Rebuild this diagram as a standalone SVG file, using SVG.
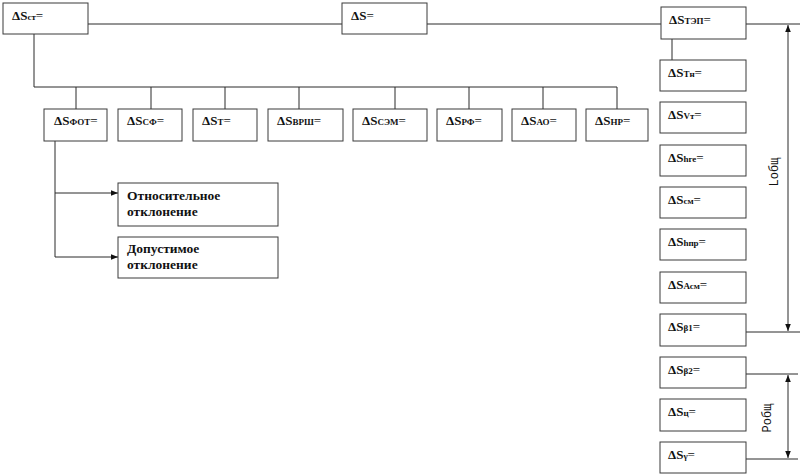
<svg xmlns="http://www.w3.org/2000/svg" width="800" height="476" viewBox="0 0 800 476">
<defs>
<style>
.box{fill:#fff;stroke:#3a3a3a;stroke-width:1}
.ln{fill:none;stroke:#2a2a2a;stroke-width:1}
.lb{font-size:13px;font-weight:bold;fill:#111}
.sb{font-size:9px}
.eq{font-weight:normal}
.tx{font-size:13.5px;font-weight:bold;fill:#111}
.dim{font-size:12px;fill:#111}
</style>
<marker id="ar" viewBox="0 0 10 10" refX="10" refY="5" markerWidth="7" markerHeight="7" orient="auto-start-reverse" markerUnits="userSpaceOnUse">
<path d="M0,1 L10,5 L0,9 Z" fill="#111"/>
</marker>
</defs>
<rect width="800" height="476" fill="#fff"/>
<g id="connectors">
<line class="ln" x1="88" y1="24" x2="342" y2="24"/>
<line class="ln" x1="427" y1="24" x2="661" y2="24"/>
<line class="ln" x1="746" y1="24" x2="800" y2="24"/>
<line class="ln" x1="788" y1="25" x2="788" y2="331" marker-start="url(#ar)" marker-end="url(#ar)"/>
<line class="ln" x1="746" y1="332" x2="800" y2="332"/>
<line class="ln" x1="746" y1="374" x2="798" y2="374"/>
<line class="ln" x1="746" y1="459" x2="798" y2="459"/>
<line class="ln" x1="788" y1="375" x2="788" y2="458" marker-start="url(#ar)" marker-end="url(#ar)"/>
<line class="ln" x1="672" y1="39" x2="672" y2="60"/>
<polyline class="ln" points="34,34 34,87 617,87"/>
<line class="ln" x1="76" y1="87" x2="76" y2="109"/>
<line class="ln" x1="151" y1="87" x2="151" y2="109"/>
<line class="ln" x1="225" y1="87" x2="225" y2="109"/>
<line class="ln" x1="299" y1="87" x2="299" y2="109"/>
<line class="ln" x1="395" y1="87" x2="395" y2="109"/>
<line class="ln" x1="469" y1="87" x2="469" y2="109"/>
<line class="ln" x1="543" y1="87" x2="543" y2="109"/>
<line class="ln" x1="617" y1="87" x2="617" y2="109"/>
<line class="ln" x1="55" y1="141" x2="55" y2="257"/>
<line class="ln" x1="55" y1="193" x2="118" y2="193" marker-end="url(#ar)"/>
<line class="ln" x1="55" y1="257" x2="118" y2="257" marker-end="url(#ar)"/>
</g>
<g id="nodes" font-family="Liberation Serif, DejaVu Serif, serif">
<g id="n-st"><rect class="box" x="3" y="3" width="85" height="31"/><text class="lb" x="12" y="20">ΔS<tspan class="sb">ст</tspan><tspan class="eq">=</tspan></text></g>
<g id="n-s"><rect class="box" x="342" y="3" width="85" height="31"/><text class="lb" x="351" y="20">ΔS<tspan class="eq">=</tspan></text></g>
<g id="n-tep"><rect class="box" x="661" y="7" width="85" height="32"/><text class="lb" x="669" y="24">ΔS<tspan class="sb">ТЭП</tspan><tspan class="eq">=</tspan></text></g>
<g id="n-tn"><rect class="box" x="660" y="60" width="86" height="31"/><text class="lb" x="668" y="77">ΔS<tspan class="sb">Тн</tspan><tspan class="eq">=</tspan></text></g>
<g id="n-vt"><rect class="box" x="660" y="102" width="86" height="31"/><text class="lb" x="668" y="119">ΔS<tspan class="sb">Vт</tspan><tspan class="eq">=</tspan></text></g>
<g id="n-hge"><rect class="box" x="660" y="145" width="86" height="31"/><text class="lb" x="668" y="162">ΔS<tspan class="sb">hге</tspan><tspan class="eq">=</tspan></text></g>
<g id="n-sm"><rect class="box" x="660" y="187" width="86" height="31"/><text class="lb" x="668" y="204">ΔS<tspan class="sb">см</tspan><tspan class="eq">=</tspan></text></g>
<g id="n-hpr"><rect class="box" x="660" y="229" width="86" height="31"/><text class="lb" x="668" y="246">ΔS<tspan class="sb">hпр</tspan><tspan class="eq">=</tspan></text></g>
<g id="n-asm"><rect class="box" x="660" y="272" width="86" height="31"/><text class="lb" x="668" y="289">ΔS<tspan class="sb">Асм</tspan><tspan class="eq">=</tspan></text></g>
<g id="n-b1"><rect class="box" x="660" y="314" width="86" height="32"/><text class="lb" x="668" y="331">ΔS<tspan class="sb">β1</tspan><tspan class="eq">=</tspan></text></g>
<g id="n-b2"><rect class="box" x="660" y="357" width="86" height="31"/><text class="lb" x="668" y="374">ΔS<tspan class="sb">β2</tspan><tspan class="eq">=</tspan></text></g>
<g id="n-c"><rect class="box" x="660" y="399" width="86" height="32"/><text class="lb" x="668" y="416">ΔS<tspan class="sb">ц</tspan><tspan class="eq">=</tspan></text></g>
<g id="n-g"><rect class="box" x="660" y="442" width="86" height="31"/><text class="lb" x="668" y="459">ΔS<tspan class="sb">γ</tspan><tspan class="eq">=</tspan></text></g>
<g id="n-fot"><rect class="box" x="44" y="109" width="63" height="32"/><text class="lb" x="54" y="125">ΔS<tspan class="sb">ФОТ</tspan><tspan class="eq">=</tspan></text></g>
<g id="n-sf"><rect class="box" x="118" y="109" width="64" height="32"/><text class="lb" x="127" y="125">ΔS<tspan class="sb">СФ</tspan><tspan class="eq">=</tspan></text></g>
<g id="n-t"><rect class="box" x="193" y="109" width="64" height="32"/><text class="lb" x="202" y="125">ΔS<tspan class="sb">Т</tspan><tspan class="eq">=</tspan></text></g>
<g id="n-vrsh"><rect class="box" x="268" y="109" width="75" height="32"/><text class="lb" x="277" y="125">ΔS<tspan class="sb">ВРШ</tspan><tspan class="eq">=</tspan></text></g>
<g id="n-sem"><rect class="box" x="353" y="109" width="74" height="32"/><text class="lb" x="362" y="125">ΔS<tspan class="sb">СЭМ</tspan><tspan class="eq">=</tspan></text></g>
<g id="n-rf"><rect class="box" x="437" y="109" width="65" height="32"/><text class="lb" x="446" y="125">ΔS<tspan class="sb">РФ</tspan><tspan class="eq">=</tspan></text></g>
<g id="n-ao"><rect class="box" x="512" y="109" width="64" height="32"/><text class="lb" x="521" y="125">ΔS<tspan class="sb">АО</tspan><tspan class="eq">=</tspan></text></g>
<g id="n-nr"><rect class="box" x="586" y="109" width="62" height="32"/><text class="lb" x="595" y="125">ΔS<tspan class="sb">НР</tspan><tspan class="eq">=</tspan></text></g>
<g id="n-otn"><rect class="box" x="118" y="183" width="160" height="43"/><text class="tx" x="127" y="200">Относительное</text><text class="tx" x="127" y="216">отклонение</text></g>
<g id="n-dop"><rect class="box" x="118" y="237" width="160" height="41"/><text class="tx" x="127" y="253">Допустимое</text><text class="tx" x="127" y="269">отклонение</text></g>
</g>
<g id="dims" font-family="Liberation Mono, DejaVu Sans Mono, monospace">
<text class="dim" transform="translate(778,172) rotate(-90)" text-anchor="middle">Lобщ</text>
<text class="dim" transform="translate(771,418) rotate(-90)" text-anchor="middle">Pобщ</text>
</g>
</svg>
